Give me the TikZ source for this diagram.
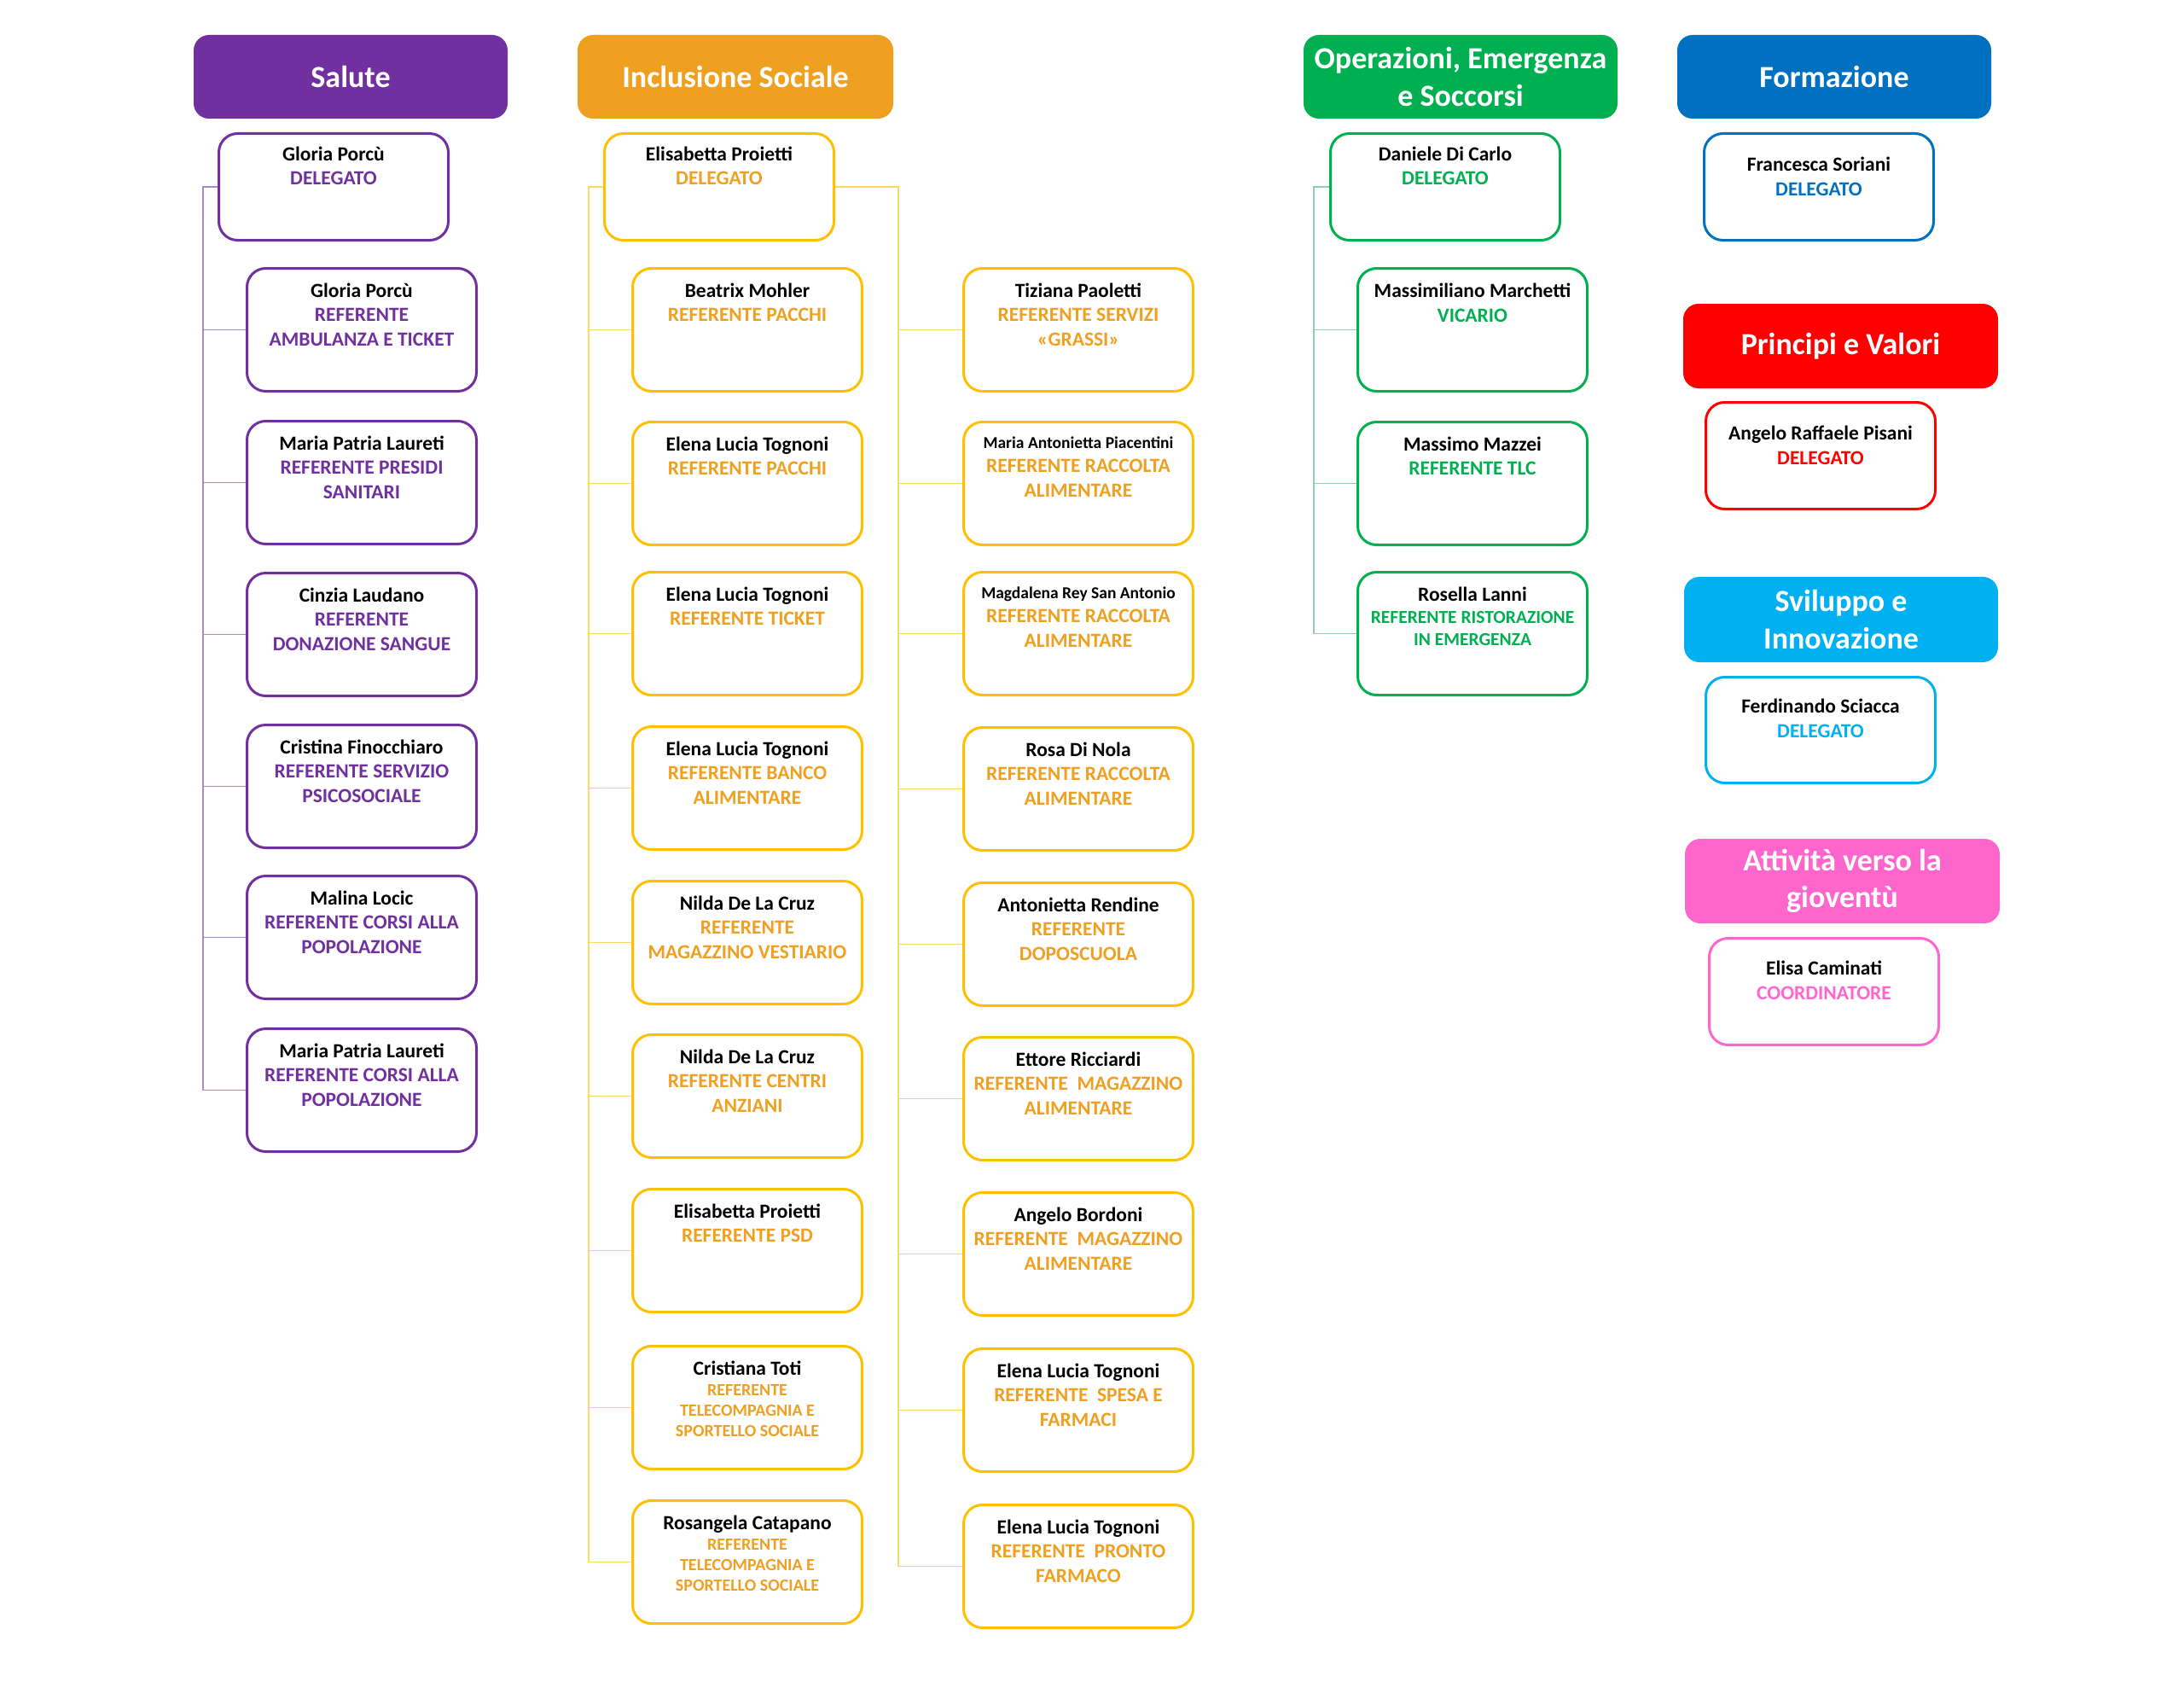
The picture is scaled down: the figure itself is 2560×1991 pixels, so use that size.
\documentclass[tikz,border=0pt]{standalone}
\usepackage{fontspec}
\setmainfont{Carlito}
\usetikzlibrary{calc}
\definecolor{purp}{HTML}{7030A0}
\definecolor{purpline}{HTML}{A98BC8}
\definecolor{orng}{HTML}{F0A020}
\definecolor{gold}{HTML}{FFC000}
\definecolor{goldline}{HTML}{FFD966}
\definecolor{grn}{HTML}{00B050}
\definecolor{grnline}{HTML}{8FCFB5}
\definecolor{blu}{HTML}{0070C0}
\definecolor{rd}{HTML}{FF0000}
\definecolor{cyn}{HTML}{00B0F0}
\definecolor{pnk}{HTML}{FF66CC}
\pgfdeclarelayer{bg}
\pgfsetlayers{bg,main}
\tikzset{
  hdr/.style={rounded corners=18pt, inner sep=0pt, text=white,
    font=\bfseries\fontsize{36}{43.5}\selectfont, align=center},
  pbox/.style={draw=#1, line width=3pt, rounded corners=22pt,
    minimum width=269pt, inner sep=0pt, fill=white},
  ptext/.style={anchor=base, inner sep=0pt, text=black,
    font=\bfseries\fontsize{23.5}{28.5}\selectfont},
  conn/.style={draw=#1, line width=1.6pt},
}
% id, x-left, y-top, outer height, border colour, first baseline offset, content
\newcommand\mkbox[7]{%
  \node[pbox=#5, minimum height={#4pt-3pt}] (#1) at ({#2+136},{#3+#4/2}) {};
  \node[ptext] (#1-t) at ([yshift={-(#6pt+1.5pt)}]#1.north)
    {\begin{minipage}[t]{262pt}\centering #7\end{minipage}};
}
% id, x1, y1, x2, y2, colour, text
\newcommand\mkhdr[7]{%
  \node[hdr, fill=#6, minimum width={(#4-#2)*1pt}, minimum height={(#5-#3)*1pt}]
    (#1) at ({(#2+#4)/2},{(#3+#5)/2}) {#7};
}
\newcommand\smname[1]{{\fontsize{19.5}{24}\selectfont #1}}
\begin{document}
\begin{tikzpicture}[x=1pt,y=-1pt]
\begin{pgfonlayer}{bg}
\fill[white] (0,0) rectangle (2560,1991);
\end{pgfonlayer}
\useasboundingbox (0,0) rectangle (2560,1991);

% ---------- headers ----------
\mkhdr{hS}{227}{41}{595}{139}{purp}{Salute}
\mkhdr{hI}{677}{41}{1047}{139}{orng}{Inclusione Sociale}
\mkhdr{hO}{1528}{41}{1896}{139}{grn}{Operazioni, Emergenza\\e Soccorsi}
\mkhdr{hF}{1966}{41}{2334}{139}{blu}{Formazione}
\mkhdr{hP}{1973}{356}{2342}{455}{rd}{Principi e Valori}
\mkhdr{hV}{1974}{676}{2342}{776}{cyn}{Sviluppo e\\Innovazione}
\mkhdr{hA}{1975}{983}{2344}{1082}{pnk}{Attività verso la\\gioventù}

% ---------- Salute ----------
\mkbox{s0}{255}{155}{128}{purp}{31.5}{Gloria Porcù\\\color{purp}DELEGATO}
\mkbox{s1}{288}{313}{147}{purp}{33.5}{Gloria Porcù\\\color{purp}REFERENTE\\AMBULANZA E TICKET}
\mkbox{s2}{288}{492}{147}{purp}{33.5}{Maria Patria Laureti\\\color{purp}REFERENTE PRESIDI\\SANITARI}
\mkbox{s3}{288}{670}{147}{purp}{33.5}{Cinzia Laudano\\\color{purp}REFERENTE\\DONAZIONE SANGUE}
\mkbox{s4}{288}{848}{147}{purp}{33.5}{Cristina Finocchiaro\\\color{purp}REFERENTE SERVIZIO\\PSICOSOCIALE}
\mkbox{s5}{288}{1025}{147}{purp}{33.5}{Malina Locic\\\color{purp}REFERENTE CORSI ALLA\\POPOLAZIONE}
\mkbox{s6}{288}{1204}{147}{purp}{33.5}{Maria Patria Laureti\\\color{purp}REFERENTE CORSI ALLA\\POPOLAZIONE}

% ---------- Inclusione Sociale ----------
\mkbox{i0}{707}{155}{128}{gold}{31.5}{Elisabetta Proietti\\\color{orng}DELEGATO}
\mkbox{l1}{740}{313}{147}{gold}{33.5}{Beatrix Mohler\\\color{orng}REFERENTE PACCHI}
\mkbox{l2}{740}{493}{147}{gold}{33.5}{Elena Lucia Tognoni\\\color{orng}REFERENTE PACCHI}
\mkbox{l3}{740}{669}{147}{gold}{33.5}{Elena Lucia Tognoni\\\color{orng}REFERENTE TICKET}
\mkbox{l4}{740}{850}{147}{gold}{33.5}{Elena Lucia Tognoni\\\color{orng}REFERENTE BANCO\\ALIMENTARE}
\mkbox{l5}{740}{1031}{147}{gold}{33.5}{Nilda De La Cruz\\\color{orng}REFERENTE\\MAGAZZINO VESTIARIO}
\mkbox{l6}{740}{1211}{147}{gold}{33.5}{Nilda De La Cruz\\\color{orng}REFERENTE CENTRI\\ANZIANI}
\mkbox{l7}{740}{1392}{147}{gold}{33.5}{Elisabetta Proietti\\\color{orng}REFERENTE PSD}
\mkbox{l8}{740}{1576}{147}{gold}{34}{Cristiana Toti\\\color{orng}\fontsize{20}{24}\selectfont REFERENTE\\TELECOMPAGNIA E\\SPORTELLO SOCIALE}
\mkbox{l9}{740}{1757}{147}{gold}{34}{Rosangela Catapano\\\color{orng}\fontsize{20}{24}\selectfont REFERENTE\\TELECOMPAGNIA E\\SPORTELLO SOCIALE}

\mkbox{r1}{1128}{313}{147}{gold}{33.5}{Tiziana Paoletti\\\color{orng}REFERENTE SERVIZI\\«GRASSI»}
\mkbox{r2}{1128}{493}{147}{gold}{30.5}{\smname{Maria Antonietta Piacentini}\\\color{orng}REFERENTE RACCOLTA\\ALIMENTARE}
\mkbox{r3}{1128}{669}{147}{gold}{30.5}{\smname{Magdalena Rey San Antonio}\\\color{orng}REFERENTE RACCOLTA\\ALIMENTARE}
\mkbox{r4}{1128}{851}{147}{gold}{33.5}{Rosa Di Nola\\\color{orng}REFERENTE RACCOLTA\\ALIMENTARE}
\mkbox{r5}{1128}{1033}{147}{gold}{33.5}{Antonietta Rendine\\\color{orng}REFERENTE\\DOPOSCUOLA}
\mkbox{r6}{1128}{1214}{147}{gold}{33.5}{Ettore Ricciardi\\\color{orng}REFERENTE\ \ MAGAZZINO\\ALIMENTARE}
\mkbox{r7}{1128}{1396}{147}{gold}{33.5}{Angelo Bordoni\\\color{orng}REFERENTE\ \ MAGAZZINO\\ALIMENTARE}
\mkbox{r8}{1128}{1579}{147}{gold}{33.5}{Elena Lucia Tognoni\\\color{orng}REFERENTE\ \ SPESA E\\FARMACI}
\mkbox{r9}{1128}{1762}{147}{gold}{33.5}{Elena Lucia Tognoni\\\color{orng}REFERENTE\ \ PRONTO\\FARMACO}

% ---------- Operazioni ----------
\mkbox{o0}{1558}{155}{128}{grn}{31.5}{Daniele Di Carlo\\\color{grn}DELEGATO}
\mkbox{o1}{1590}{313}{147}{grn}{34}{Massimiliano Marchetti\\\color{grn}VICARIO}
\mkbox{o2}{1590}{493}{147}{grn}{33.5}{Massimo Mazzei\\\color{grn}REFERENTE TLC}
\mkbox{o3}{1590}{669}{147}{grn}{34}{Rosella Lanni\\\color{grn}\fontsize{21.5}{26}\selectfont REFERENTE RISTORAZIONE\\IN EMERGENZA}

% ---------- single delegates ----------
\mkbox{f0}{1996}{155}{128}{blu}{44}{Francesca Soriani\\\color{blu}DELEGATO}
\mkbox{p0}{1998}{470}{128}{rd}{44}{Angelo Raffaele Pisani\\\color{rd}DELEGATO}
\mkbox{v0}{1998}{792}{127}{cyn}{42}{Ferdinando Sciacca\\\color{cyn}DELEGATO}
\mkbox{a0}{2002}{1098}{128}{pnk}{43}{Elisa Caminati\\\color{pnk}COORDINATORE}

% ---------- connectors ----------
\coordinate (sbus) at (238,0);
\coordinate (ibusl) at (690,0);
\coordinate (ibusr) at (1053,0);
\coordinate (obus) at (1540,0);
\begin{pgfonlayer}{bg}
\foreach \c in {s1,s2,s3,s4,s5,s6}
  \draw[conn=purpline] (s0.west) -- (s0.west -| sbus) |- (\c.west);
\foreach \c in {l1,l2,l3,l4,l5,l6,l7,l8,l9}
  \draw[conn=goldline] (i0.west) -- (i0.west -| ibusl) |- (\c.west);
\foreach \c in {r1,r2,r3,r4,r5,r6,r7,r8,r9}
  \draw[conn=goldline] (i0.east) -- (i0.east -| ibusr) |- (\c.west);
\foreach \c in {o1,o2,o3}
  \draw[conn=grnline] (o0.west) -- (o0.west -| obus) |- (\c.west);
\end{pgfonlayer}
\end{tikzpicture}
\end{document}
